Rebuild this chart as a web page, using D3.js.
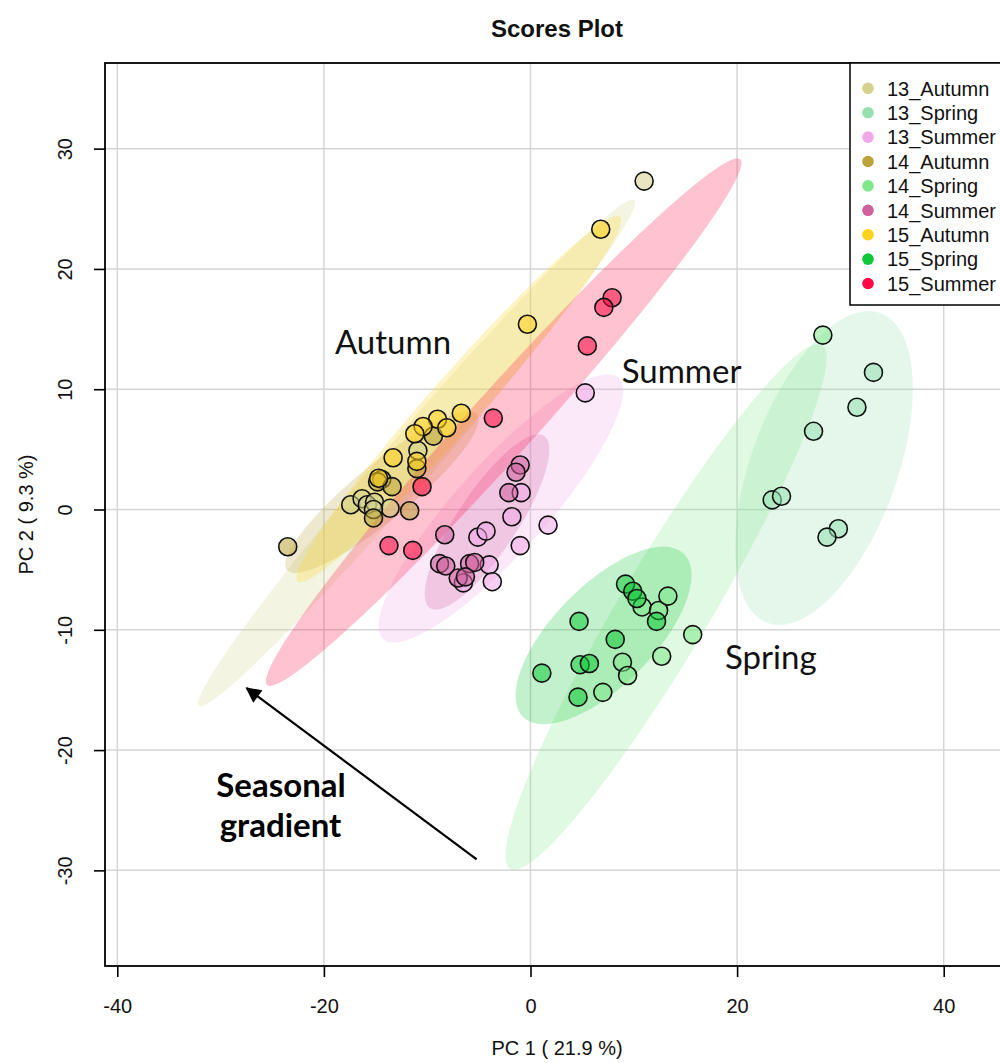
<!DOCTYPE html>
<html><head><meta charset="utf-8">
<script src="https://cdn.jsdelivr.net/npm/d3@7"></script>
<style>body{margin:0;background:#fff;} svg{display:block;}</style>
</head><body>
<svg id="chart" width="1000" height="1063"></svg>
<script>
// ---------- data ----------
const groups = ["13_Autumn","13_Spring","13_Summer","14_Autumn","14_Spring","14_Summer","15_Autumn","15_Spring","15_Summer"];
const groupColors = ["#D4D28C","#96E0B0","#F0A8E8","#BBA43A","#80E88A","#D0609E","#FFD21A","#10C838","#FF0A44"];
const xTicks = [-40,-20,0,20,40];
const yTicks = [-30,-20,-10,0,10,20,30];
const xDomain = [-41.19, 46.32];
const yDomain = [-37.95, 37.12];

const pc1_13Autumn = [11.0,-10.9,-17.4,-16.3,-15.8,-15.1,-13.6,-15.2];
const pc2_13Autumn = [27.3,4.9,0.4,0.9,0.4,0.6,0.1,0.0];
const pc1_13Spring = [33.2,31.6,27.4,23.4,24.3,29.8,28.7];
const pc2_13Spring = [11.4,8.5,6.5,0.8,1.1,-1.6,-2.3];
const pc1_13Summer = [5.3,-0.9,-1.8,1.7,-1.0,-5.1,-4.3,-4.0,-6.5,-3.7];
const pc2_13Summer = [9.7,1.4,-0.6,-1.3,-3.0,-2.3,-1.8,-4.6,-6.1,-6.0];
const pc1_14Autumn = [-9.4,-11.0,-14.4,-14.8,-11.7,-15.2,-23.5,-13.4];
const pc2_14Autumn = [6.1,3.4,2.5,2.3,-0.1,-0.7,-3.1,1.9];
const pc1_14Spring = [10.8,12.4,13.3,15.7,8.9,12.7,9.4,7.0,28.3];
const pc2_14Spring = [-8.1,-8.4,-7.2,-10.4,-12.7,-12.2,-13.8,-15.2,14.5];
const pc1_14Summer = [-1.0,-1.4,-2.1,-8.3,-8.8,-8.2,-5.9,-5.4,-7.0,-6.3];
const pc2_14Summer = [3.7,3.1,1.4,-2.1,-4.5,-4.7,-4.5,-4.4,-5.7,-5.6];
const pc1_15Autumn = [6.8,-0.3,-6.7,-9.0,-8.1,-10.4,-11.2,-13.3,-11.0,-14.7];
const pc2_15Autumn = [23.3,15.4,8.0,7.5,6.8,6.9,6.3,4.3,4.0,2.6];
const pc1_15Spring = [9.2,9.9,10.3,12.2,4.7,8.2,4.8,5.7,1.1,4.6];
const pc2_15Spring = [-6.2,-6.8,-7.4,-9.3,-9.3,-10.8,-12.9,-12.8,-13.6,-15.6];
const pc1_15Summer = [7.9,7.1,5.5,-3.6,-10.5,-13.7,-11.4];
const pc2_15Summer = [17.6,16.8,13.6,7.6,1.9,-3.0,-3.4];

// 95% confidence ellipses: centre, end of major semi-axis, end of minor semi-axis (PC units)
const ellipseCenters  = [[-11.02,4.71],[28.41,3.45],[-2.87,0.09],[-14.38,1.45],[13.12,-8.10],[-4.21,-1.04],[-6.94,9.18],[7.07,-10.47],[-2.60,7.26]];
const ellipseMajorTips = [[10.06,25.73],[33.87,16.33],[8.50,10.95],[-5.17,7.93],[28.21,13.67],[1.31,6.11],[8.67,24.34],[14.86,-3.70],[20.30,29.11]];
const ellipseMinorTips = [[-9.18,3.36],[35.05,1.37],[0.38,-2.41],[-12.66,-0.34],[16.86,-10.02],[-1.79,-2.42],[-5.05,7.75],[10.51,-13.40],[-0.23,5.42]];

// annotations (PC units)
const seasonLabels = ["Autumn","Summer","Spring"];
const seasonLabelPos = [[-18.93,12.93],[8.83,10.52],[18.83,-13.26]];
const gradientLabel = ["Seasonal","gradient"];
const gradientLabelPos = [[-24.15,-23.9],[-24.2,-27.22]];
const arrowFrom = [-5.21,-29.08];
const arrowTo = [-27.47,-14.86];

// ---------- chart ----------
const pc1 = [pc1_13Autumn,pc1_13Spring,pc1_13Summer,pc1_14Autumn,pc1_14Spring,pc1_14Summer,pc1_15Autumn,pc1_15Spring,pc1_15Summer];
const pc2 = [pc2_13Autumn,pc2_13Spring,pc2_13Summer,pc2_14Autumn,pc2_14Spring,pc2_14Summer,pc2_15Autumn,pc2_15Spring,pc2_15Summer];

const L = 105, R = 1009, T = 63, B = 966;
const svg = d3.select("#chart");
const x = d3.scaleLinear().domain(xDomain).range([L, R]);
const y = d3.scaleLinear().domain(yDomain).range([B, T]);
const font = "'Liberation Sans', Arial, sans-serif";
const fmt = d => String(d);

svg.append("defs").append("clipPath").attr("id","plotclip")
  .append("rect").attr("x",L).attr("y",T).attr("width",R-L).attr("height",B-T);
const defs = svg.select("defs");
defs.append("marker").attr("id","arrowhead").attr("viewBox","0 0 10 10")
  .attr("refX",9).attr("refY",5).attr("markerWidth",9).attr("markerHeight",7)
  .attr("markerUnits","strokeWidth").attr("orient","auto")
  .append("path").attr("d","M0,0 L10,5 L0,10 z").attr("fill","#000");

// grid
const grid = svg.append("g").attr("clip-path","url(#plotclip)");
grid.selectAll(".gx").data(xTicks).enter().append("line")
  .attr("x1",d=>x(d)).attr("x2",d=>x(d)).attr("y1",T).attr("y2",B)
  .attr("stroke","#d6d6d6").attr("stroke-width",1.5);
grid.selectAll(".gy").data(yTicks).enter().append("line")
  .attr("y1",d=>y(d)).attr("y2",d=>y(d)).attr("x1",L).attr("x2",R)
  .attr("stroke","#d6d6d6").attr("stroke-width",1.5);

// ellipses
const plot = svg.append("g").attr("clip-path","url(#plotclip)");
const line = d3.line().x(d=>x(d[0])).y(d=>y(d[1])).curve(d3.curveLinearClosed);
groups.forEach((g,i)=>{
  const c = ellipseCenters[i], M = ellipseMajorTips[i], m = ellipseMinorTips[i];
  const ux = M[0]-c[0], uy = M[1]-c[1], vx = m[0]-c[0], vy = m[1]-c[1];
  const pts = d3.range(0,360,2).map(a=>{
    const t = a*Math.PI/180;
    return [c[0]+ux*Math.cos(t)+vx*Math.sin(t), c[1]+uy*Math.cos(t)+vy*Math.sin(t)];
  });
  plot.append("path").attr("d",line(pts)).attr("fill",groupColors[i])
    .attr("fill-opacity",0.25).attr("stroke","none");
});

// points
groups.forEach((g,i)=>{
  plot.selectAll(null).data(d3.range(pc1[i].length)).enter().append("circle")
    .attr("cx",k=>x(pc1[i][k])).attr("cy",k=>y(pc2[i][k])).attr("r",9)
    .attr("fill",groupColors[i]).attr("fill-opacity",0.55)
    .attr("stroke","#111").attr("stroke-width",1.6);
});

// box
svg.append("rect").attr("x",L).attr("y",T).attr("width",R-L).attr("height",B-T)
  .attr("fill","none").attr("stroke","#000").attr("stroke-width",1.8);

// axes
const xAxis = svg.append("g").attr("transform",`translate(0,${B})`)
  .call(d3.axisBottom(x).tickValues(xTicks).tickSize(11).tickPadding(22).tickFormat(fmt));
xAxis.select(".domain").remove();
xAxis.selectAll("line").attr("stroke","#000").attr("stroke-width",1.6);
xAxis.selectAll("text").attr("font-family",font).attr("font-size",20).attr("fill","#111");

const yAxis = svg.append("g").attr("transform",`translate(${L},0)`)
  .call(d3.axisLeft(y).tickValues(yTicks).tickSize(11).tickFormat(fmt));
yAxis.select(".domain").remove();
yAxis.selectAll("line").attr("stroke","#000").attr("stroke-width",1.6);
yAxis.selectAll("text").attr("x",0).attr("y",-33).attr("dy",0)
  .attr("transform","rotate(-90)").attr("text-anchor","middle")
  .attr("font-family",font).attr("font-size",20).attr("fill","#111");

// titles
svg.append("text").attr("x",(L+R)/2).attr("y",37).attr("text-anchor","middle")
  .attr("font-family",font).attr("font-size",24).attr("font-weight","bold").attr("fill","#111")
  .text("Scores Plot");
svg.append("text").attr("x",(L+R)/2).attr("y",1055).attr("text-anchor","middle")
  .attr("font-family",font).attr("font-size",20).attr("fill","#111")
  .text("PC 1 ( 21.9 %)");
svg.append("text").attr("transform",`translate(33,${(T+B)/2}) rotate(-90)`).attr("text-anchor","middle")
  .attr("font-family",font).attr("font-size",20).attr("fill","#111")
  .text("PC 2 ( 9.3 %)");

// legend
const lg = svg.append("g");
lg.append("rect").attr("x",850).attr("y",T).attr("width",R-850).attr("height",242)
  .attr("fill","#fff").attr("stroke","#000").attr("stroke-width",1.5);
groups.forEach((g,i)=>{
  const yy = 88.3 + i*24.4;
  lg.append("circle").attr("cx",868).attr("cy",yy).attr("r",5.8).attr("fill",groupColors[i]);
  lg.append("text").attr("x",887).attr("y",yy).attr("dy","0.36em")
    .attr("font-family",font).attr("font-size",20).attr("fill","#111").text(g);
});

// annotations
const annFont = "Lato, 'Open Sans', sans-serif";
seasonLabels.forEach((s,i)=>{
  svg.append("text").attr("x",x(seasonLabelPos[i][0])).attr("y",y(seasonLabelPos[i][1]))
    .attr("font-family",annFont).attr("font-size",33).attr("fill","#111").text(s);
});
gradientLabel.forEach((s,i)=>{
  svg.append("text").attr("x",x(gradientLabelPos[i][0])).attr("y",y(gradientLabelPos[i][1]))
    .attr("text-anchor","middle").attr("font-family",annFont).attr("font-weight","bold")
    .attr("font-size",33).attr("fill","#000").text(s);
});
svg.append("line").attr("x1",x(arrowFrom[0])).attr("y1",y(arrowFrom[1]))
  .attr("x2",x(arrowTo[0])).attr("y2",y(arrowTo[1]))
  .attr("stroke","#000").attr("stroke-width",2.2).attr("marker-end","url(#arrowhead)");
</script>
</body></html>
